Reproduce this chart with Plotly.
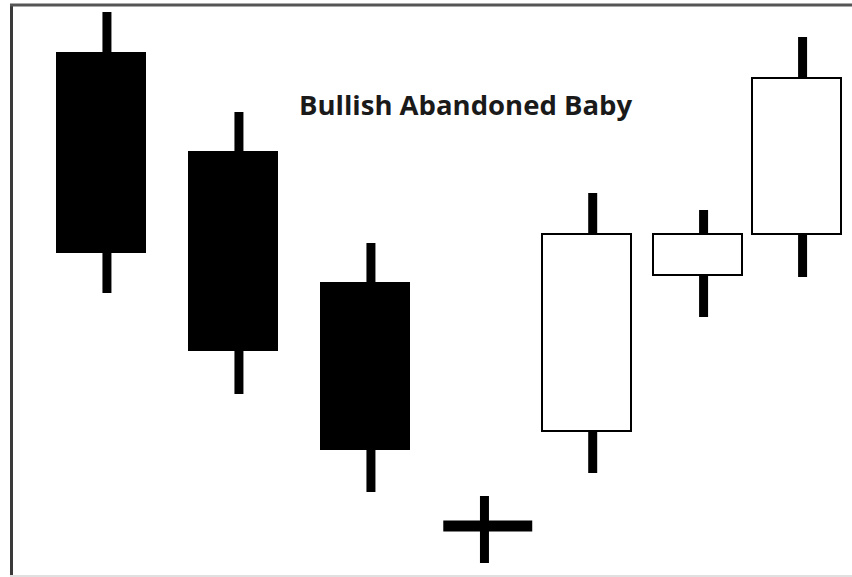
import plotly.graph_objects as go

# ---- data ----
days = [1.0, 2.0, 3.0, 3.93, 4.68, 5.52, 6.27]
opens = [52.4, 42.5, 29.4, 5.1, 14.6, 30.2, 34.3]
highs = [56.5, 46.5, 33.4, 8.1, 38.4, 36.7, 54.0]
lows = [28.4, 18.3, 8.5, 1.4, 10.4, 26.0, 30.0]
closes = [32.5, 22.7, 12.8, 5.1, 34.3, 34.3, 49.9]
title_text = "Bullish Abandoned Baby"

# ---- style ----
W, H = 852, 577
BODY_W = 0.674
WICK_OFF = 0.045
WICK_PX = 9

fig = go.Figure()

bx, by, bbase, bcol = [], [], [], []
wx, wy = [], []
dx, dy = [], []
for d, o, h, l, c in zip(days, opens, highs, lows, closes):
    top, bot = max(o, c), min(o, c)
    xw = d + WICK_OFF
    if o == c:
        dx += [d - BODY_W / 2, d + BODY_W / 2, None]
        dy += [o, o, None]
        wx += [xw - 0.07, xw - 0.07, None]
        wy += [h, l, None]
    else:
        bx.append(d)
        by.append(top - bot)
        bbase.append(bot)
        bcol.append("black" if c < o else "white")
        wx += [xw, xw, None, xw, xw, None]
        wy += [h, top, None, bot, l, None]

fig.add_trace(go.Scatter(x=wx, y=wy, mode="lines",
                         line=dict(color="black", width=WICK_PX),
                         hoverinfo="skip", showlegend=False))
fig.add_trace(go.Scatter(x=dx, y=dy, mode="lines",
                         line=dict(color="black", width=11),
                         hoverinfo="skip", showlegend=False))
fig.add_trace(go.Bar(x=bx, y=by, base=bbase, width=BODY_W,
                     marker=dict(color=bcol, line=dict(color="black", width=2)),
                     hoverinfo="skip", showlegend=False))

# x scale: 132 px per day, day 1 at px 101
x0 = 1 - 101 / 132
x1 = 1 + (W - 101) / 132
fig.update_xaxes(range=[x0, x1], visible=False, fixedrange=True)
fig.update_yaxes(range=[0, H / 10], visible=False, fixedrange=True)

fig.add_annotation(text="<b>" + title_text + "</b>", xref="paper", yref="paper",
                   x=465 / W, y=1 - 104 / H, showarrow=False,
                   font=dict(family="Open Sans, Noto Sans, sans-serif", size=27.5, color="#1a1a1a"),
                   xanchor="center", yanchor="middle")

# frame
fig.add_shape(type="line", xref="paper", yref="paper", x0=11.5 / W, x1=11.5 / W, y0=0, y1=1 - 4 / H,
              line=dict(color="#3a3a3a", width=3))
fig.add_shape(type="line", xref="paper", yref="paper", x0=10 / W, x1=1, y0=1 - 5 / H, y1=1 - 5 / H,
              line=dict(color="#555555", width=3))
fig.add_shape(type="line", xref="paper", yref="paper", x0=10 / W, x1=1, y0=1 / H, y1=1 / H,
              line=dict(color="#e0e0e0", width=2))

fig.update_layout(width=W, height=H, margin=dict(l=0, r=0, t=0, b=0),
                  paper_bgcolor="white", plot_bgcolor="white",
                  barmode="overlay", bargap=0)

fig.write_html("out.html", config={"displayModeBar": False},
               post_script="document.body.style.margin='0';document.body.style.overflow='hidden';")
